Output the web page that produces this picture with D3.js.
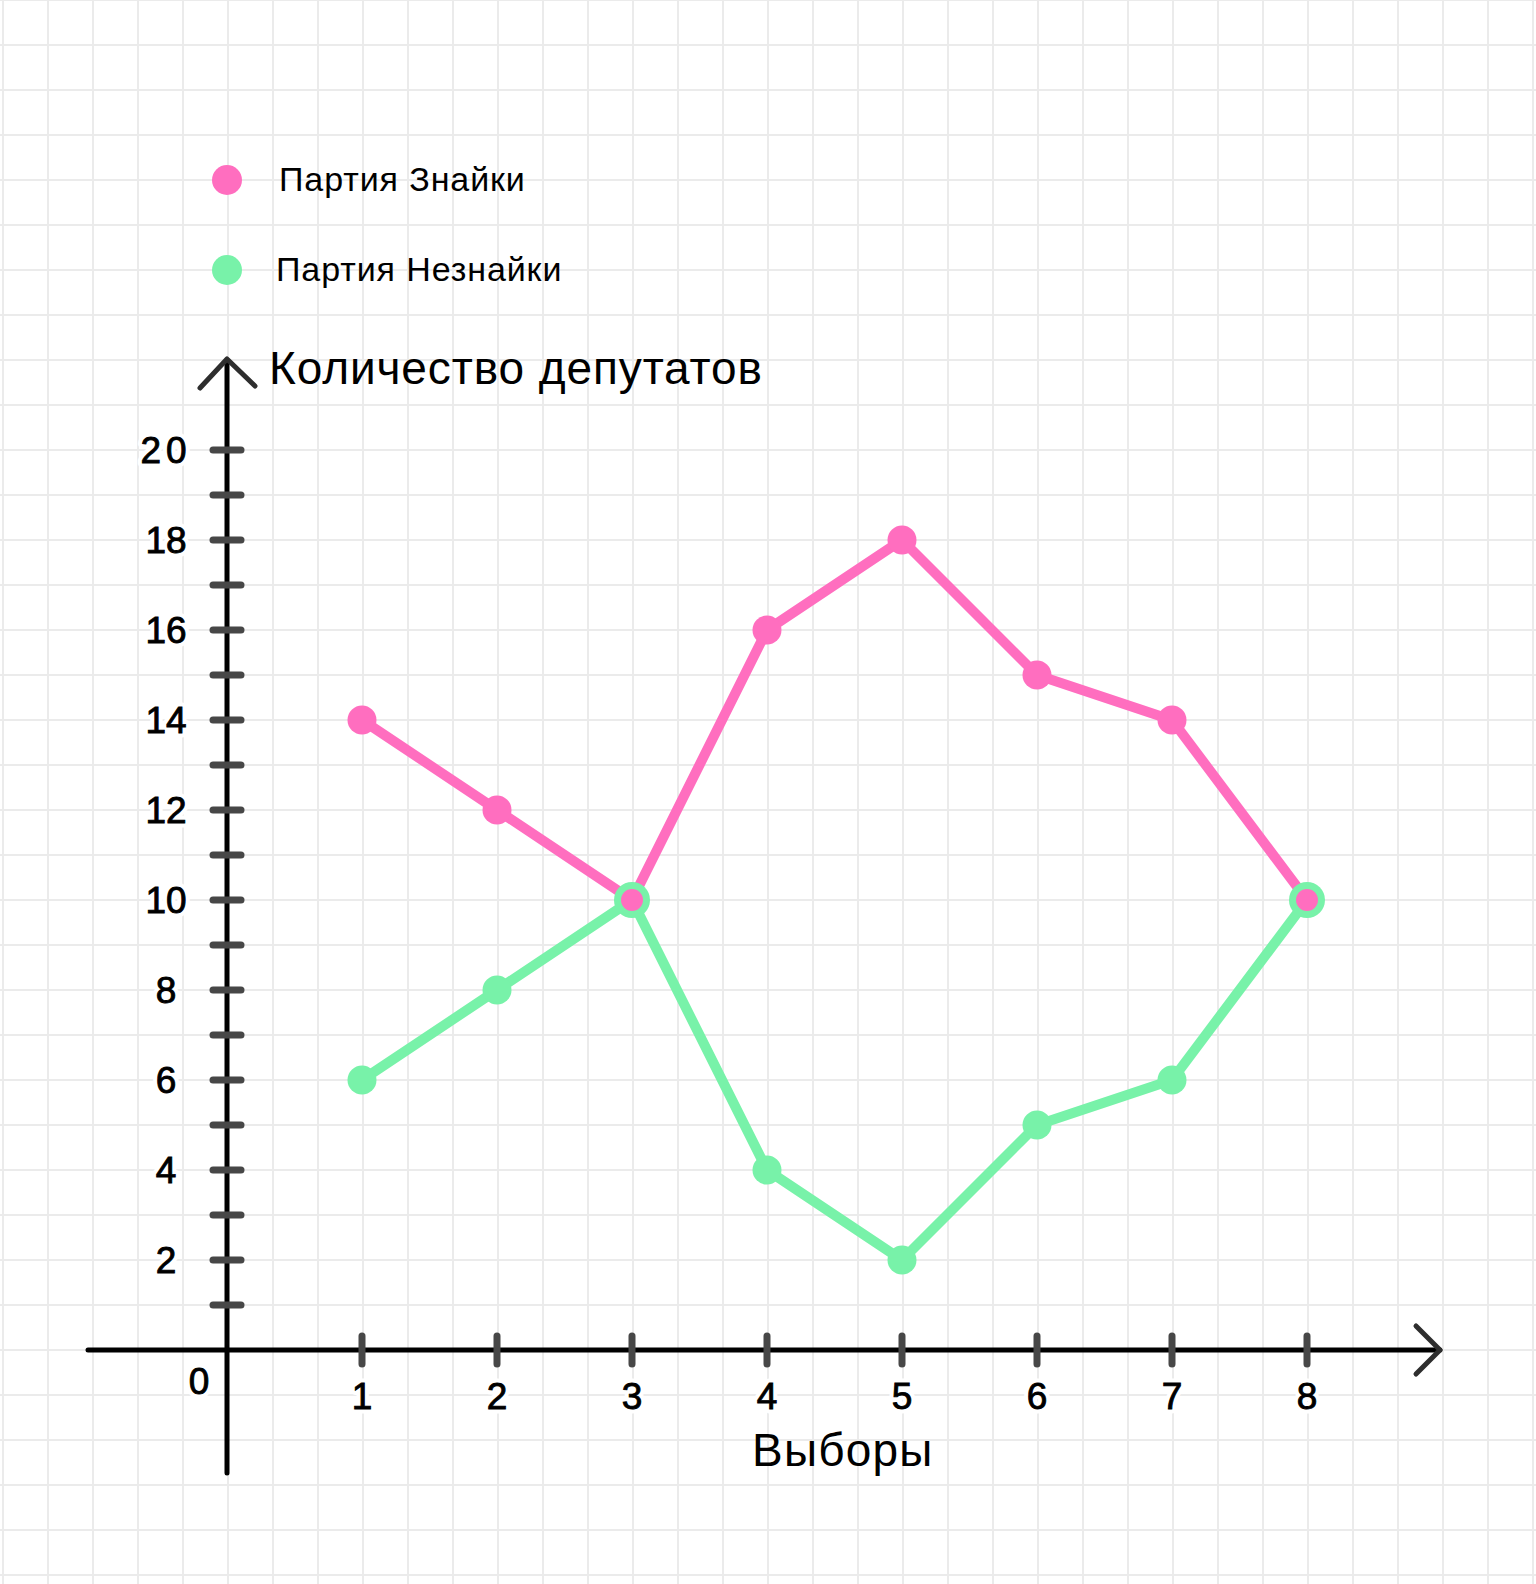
<!DOCTYPE html>
<html><head><meta charset="utf-8">
<script src="https://cdn.jsdelivr.net/npm/d3@7"></script>
<style>html,body{margin:0;padding:0;background:#fff}svg{display:block}</style>
</head><body>
<script>
const elections = [1, 2, 3, 4, 5, 6, 7, 8];
const znaykaSeats = [14, 12, 10, 16, 18, 15, 14, 10];
const neznaykaSeats = [6, 8, 10, 4, 2, 5, 6, 10];
const yTicks = [2, 4, 6, 8, 10, 12, 14, 16, 18, 20];
const yMinorTicks = [1, 3, 5, 7, 9, 11, 13, 15, 17, 19];
const seriesNames = ["Партия Знайки", "Партия Незнайки"];
const yTitle = "Количество депутатов";
const xTitle = "Выборы";

const W = 1536, H = 1584;
const PINK = "#ff6ebf", GREEN = "#78f2a9";
const FONT = "'Liberation Sans', Arial, sans-serif";

const svg = d3.select("body").append("svg").attr("width", W).attr("height", H);

// grid paper
const grid = svg.append("g").attr("stroke", "#ebebeb").attr("stroke-width", 2);
grid.selectAll("line.v").data(d3.range(3, W + 1, 45)).join("line")
  .attr("x1", d => d).attr("x2", d => d).attr("y1", 0).attr("y2", H);
grid.selectAll("line.h").data(d3.range(0, H + 1, 45)).join("line")
  .attr("y1", d => d).attr("y2", d => d).attr("x1", 0).attr("x2", W);

const x = d3.scaleLinear().domain([0, 8]).range([227, 227 + 135 * 8]);
const y = d3.scaleLinear().domain([0, 20]).range([1350, 450]);

// axes lines
svg.append("line").attr("x1", 88).attr("x2", 1440).attr("y1", y(0)).attr("y2", y(0))
  .attr("stroke", "#000").attr("stroke-width", 5).attr("stroke-linecap", "round");
svg.append("line").attr("x1", x(0)).attr("x2", x(0)).attr("y1", 360).attr("y2", 1473)
  .attr("stroke", "#000").attr("stroke-width", 5).attr("stroke-linecap", "round");
// arrowheads
svg.append("path").attr("d", `M${1416},${y(0) - 24}L${1440},${y(0)}L${1416},${y(0) + 24}`)
  .attr("fill", "none").attr("stroke", "#2e2e2e").attr("stroke-width", 5)
  .attr("stroke-linecap", "round").attr("stroke-linejoin", "round");
svg.append("path").attr("d", `M${x(0) - 27},${388}L${x(0)},${359}L${x(0) + 28},${386}`)
  .attr("fill", "none").attr("stroke", "#2e2e2e").attr("stroke-width", 5)
  .attr("stroke-linecap", "round").attr("stroke-linejoin", "round");

// ticks
const tickG = svg.append("g").attr("stroke", "#474747").attr("stroke-width", 7).attr("stroke-linecap", "round");
tickG.selectAll("line.yt").data(yTicks.concat(yMinorTicks)).join("line")
  .attr("x1", 213).attr("x2", 241).attr("y1", d => y(d)).attr("y2", d => y(d));
tickG.selectAll("line.xt").data(elections).join("line")
  .attr("x1", d => x(d)).attr("x2", d => x(d)).attr("y1", y(0) - 14).attr("y2", y(0) + 14);

// tick labels (white halo layer, then a slightly heavier black layer)
function tickLabels(g) {
  g.selectAll("text.yl").data(yTicks).join("text").attr("class", "yl")
    .attr("x", 166).attr("y", d => y(d))
    .attr("letter-spacing", d => d === 20 ? 5 : 0)
    .text(d => d);
  g.selectAll("text.xl").data(elections).join("text").attr("class", "xl")
    .attr("x", d => x(d)).attr("y", 1396).text(d => d);
  g.selectAll("text.zero").data([0]).join("text").attr("class", "zero")
    .attr("x", 199).attr("y", 1381).text(d => d);
}
const haloG = svg.append("g").attr("font-family", FONT).attr("font-size", 37).attr("fill", "#fff")
  .attr("stroke", "#fff").attr("stroke-width", 9).attr("stroke-linejoin", "round")
  .attr("text-anchor", "middle").attr("dominant-baseline", "central");
tickLabels(haloG);
const labG = svg.append("g").attr("font-family", FONT).attr("font-size", 37).attr("fill", "#000")
  .attr("stroke", "#000").attr("stroke-width", 0.9)
  .attr("text-anchor", "middle").attr("dominant-baseline", "central");
tickLabels(labG);

// titles
svg.append("text").attr("x", 269).attr("y", 384).attr("font-family", FONT).attr("font-size", 46)
  .attr("letter-spacing", 0.9).attr("fill", "#000").text(yTitle);
svg.append("text").attr("x", 752).attr("y", 1466).attr("font-family", FONT).attr("font-size", 46)
  .attr("letter-spacing", 1.2).attr("fill", "#000").text(xTitle);

// lines
const line = d3.line().x((d, i) => x(elections[i])).y(d => y(d));
svg.append("path").datum(znaykaSeats).attr("d", line).attr("fill", "none")
  .attr("stroke", PINK).attr("stroke-width", 10).attr("stroke-linejoin", "round");
svg.append("path").datum(neznaykaSeats).attr("d", line).attr("fill", "none")
  .attr("stroke", GREEN).attr("stroke-width", 10).attr("stroke-linejoin", "round");

const same = neznaykaSeats.map((d, i) => d === znaykaSeats[i]);
svg.append("g").selectAll("circle").data(znaykaSeats).join("circle")
  .attr("cx", (d, i) => x(elections[i])).attr("cy", d => y(d)).attr("r", 14.5).attr("fill", PINK);
svg.append("g").selectAll("circle").data(neznaykaSeats).join("circle")
  .attr("cx", (d, i) => x(elections[i])).attr("cy", d => y(d))
  .attr("r", (d, i) => same[i] ? 18 : 14.5).attr("fill", GREEN);
// where both parties coincide the pink point sits inside the green one
svg.append("g").selectAll("circle")
  .data(znaykaSeats.map((d, i) => ({ i, d })).filter(o => same[o.i]))
  .join("circle")
  .attr("cx", o => x(elections[o.i])).attr("cy", o => y(o.d)).attr("r", 11).attr("fill", PINK);

// legend
const leg = svg.append("g").attr("font-family", FONT).attr("font-size", 34)
  .attr("letter-spacing", 0.9).attr("fill", "#000");
const legY = [180, 270], legTx = [279, 276];
seriesNames.forEach((name, i) => {
  leg.append("circle").attr("cx", 227).attr("cy", legY[i]).attr("r", 15).attr("fill", i === 0 ? PINK : GREEN);
  leg.append("text").attr("x", legTx[i]).attr("y", legY[i] + 11).text(name);
});
</script>
</body></html>
